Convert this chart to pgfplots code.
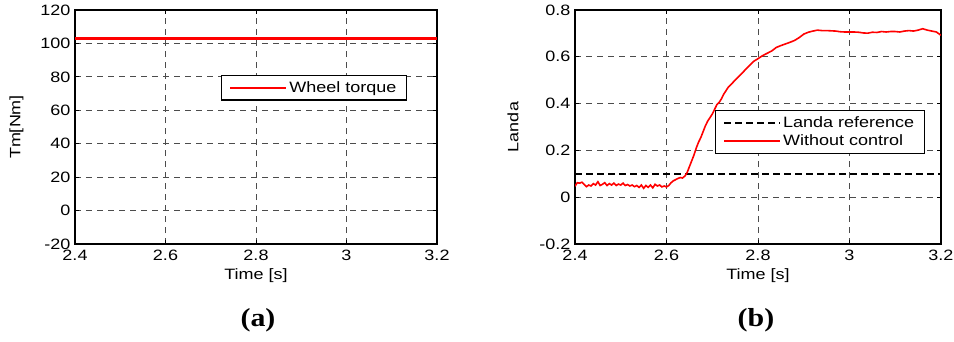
\documentclass[border=0pt]{standalone}
\usepackage{fontspec}
\setmainfont{Liberation Sans}[FakeStretch=1.2]
\newfontfamily\capfont{Liberation Serif}[FakeStretch=1.15]
\usepackage{pgfplots}
\pgfplotsset{compat=1.18}
\pgfplotsset{
  mlab/.style={
    scale only axis,
    height=234pt,
    xmin=2.4, xmax=3.2,
    xtick={2.4,2.6,2.8,3,3.2},
    xticklabels={2.4,2.6,2.8,3,3.2},
    axis line style={line width=1.1pt},
    tick align=inside,
    major tick length=4pt,
    tick style={line width=0.8pt, black},
    grid=major,
    major grid style={dash pattern=on 6pt off 5pt, black!70, line width=0.8pt},
    tick label style={font=\fontsize{15}{17}\selectfont},
    /pgf/number format/assume math mode=true,
    xticklabel style={yshift=-2.5pt},
    yticklabel style={xshift=-1pt},
    label style={font=\fontsize{15}{17}\selectfont},
    xlabel={Time [s]},
    xlabel style={yshift=-1pt},
    legend style={font=\fontsize{15}{17}\selectfont, draw=black, line width=1.2pt,
      inner xsep=8pt, inner ysep=4pt, row sep=2pt},
    legend cell align=left,
    legend image code/.code={\draw[#1, line width=1.8pt] (0pt,0pt) -- (56pt,0pt);},
  }
}
\begin{document}
\begin{tikzpicture}
\useasboundingbox (0,0) rectangle (954pt,341pt);
\begin{axis}[mlab, at={(75pt,97pt)}, anchor=south west,
  width=362pt,
  ymin=-20, ymax=120,
  ytick={-20,0,20,40,60,80,100,120},
  ylabel={Tm[Nm]},
  ylabel style={yshift=10pt},
  legend style={at={(0.917,0.722)}, anchor=north east},
]
\addplot[red, line width=2.2pt] coordinates {(2.4,103) (3.2,103)};
\addlegendentry{Wheel torque}
\end{axis}

\begin{axis}[mlab, at={(575pt,97pt)}, anchor=south west,
  width=366pt,
  ymin=-0.2, ymax=0.8,
  ytick={-0.2,0,0.2,0.4,0.6,0.8},
  yticklabels={-0.2,0,0.2,0.4,0.6,0.8},
  ylabel={Landa},
  ylabel style={yshift=14pt},
  legend style={at={(0.956,0.573)}, anchor=north east},
]
\addplot[black, line width=1.8pt, dash pattern=on 7pt off 4pt] coordinates {(2.4,0.1) (3.2,0.1)};
\addlegendentry{Landa reference}
\addplot[red, line width=1.6pt] coordinates {
(2.400,0.047) (2.405,0.062) (2.410,0.060) (2.415,0.064) (2.420,0.055)
(2.425,0.045) (2.430,0.052) (2.435,0.048) (2.440,0.058) (2.445,0.052)
(2.450,0.066) (2.455,0.050) (2.460,0.055) (2.465,0.062) (2.470,0.050)
(2.475,0.058) (2.480,0.052) (2.485,0.060) (2.490,0.050) (2.495,0.056)
(2.500,0.052) (2.505,0.060) (2.510,0.050) (2.515,0.054) (2.520,0.048)
(2.525,0.052) (2.530,0.045) (2.535,0.050) (2.540,0.042) (2.545,0.052)
(2.550,0.038) (2.555,0.050) (2.560,0.042) (2.565,0.052) (2.570,0.040)
(2.575,0.055) (2.580,0.048) (2.585,0.052) (2.590,0.044) (2.595,0.048)
(2.600,0.044) (2.605,0.050) (2.610,0.062) (2.615,0.070) (2.620,0.075)
(2.625,0.080) (2.630,0.084) (2.635,0.082) (2.640,0.090) (2.645,0.105)
(2.650,0.130) (2.655,0.155) (2.660,0.180) (2.665,0.210) (2.670,0.235)
(2.675,0.255) (2.680,0.280) (2.685,0.305) (2.690,0.325) (2.695,0.340)
(2.700,0.355) (2.705,0.375) (2.710,0.395) (2.715,0.405) (2.720,0.420)
(2.725,0.440) (2.730,0.455) (2.735,0.470) (2.740,0.480) (2.745,0.490)
(2.750,0.500) (2.760,0.520) (2.770,0.540) (2.780,0.560) (2.790,0.580)
(2.800,0.592) (2.810,0.605) (2.820,0.615) (2.830,0.625) (2.840,0.640)
(2.850,0.648) (2.860,0.655) (2.870,0.662) (2.880,0.670) (2.890,0.682)
(2.900,0.697) (2.910,0.705) (2.920,0.710) (2.930,0.714) (2.940,0.712)
(2.950,0.712) (2.960,0.711) (2.970,0.710) (2.980,0.707) (2.990,0.706)
(3.000,0.706) (3.010,0.706) (3.020,0.705) (3.030,0.702) (3.040,0.701)
(3.050,0.705) (3.060,0.704) (3.070,0.708) (3.080,0.706) (3.090,0.708)
(3.100,0.708) (3.110,0.706) (3.120,0.710) (3.130,0.712) (3.140,0.710)
(3.150,0.714) (3.160,0.720) (3.170,0.714) (3.180,0.710) (3.190,0.706)
(3.200,0.692)};
\addlegendentry{Without control}
\end{axis}

\node[font=\capfont\bfseries\fontsize{26}{29}\selectfont] at (258pt,21pt) {(a)};
\node[font=\capfont\bfseries\fontsize{26}{29}\selectfont] at (756pt,21pt) {(b)};
\end{tikzpicture}
\end{document}
